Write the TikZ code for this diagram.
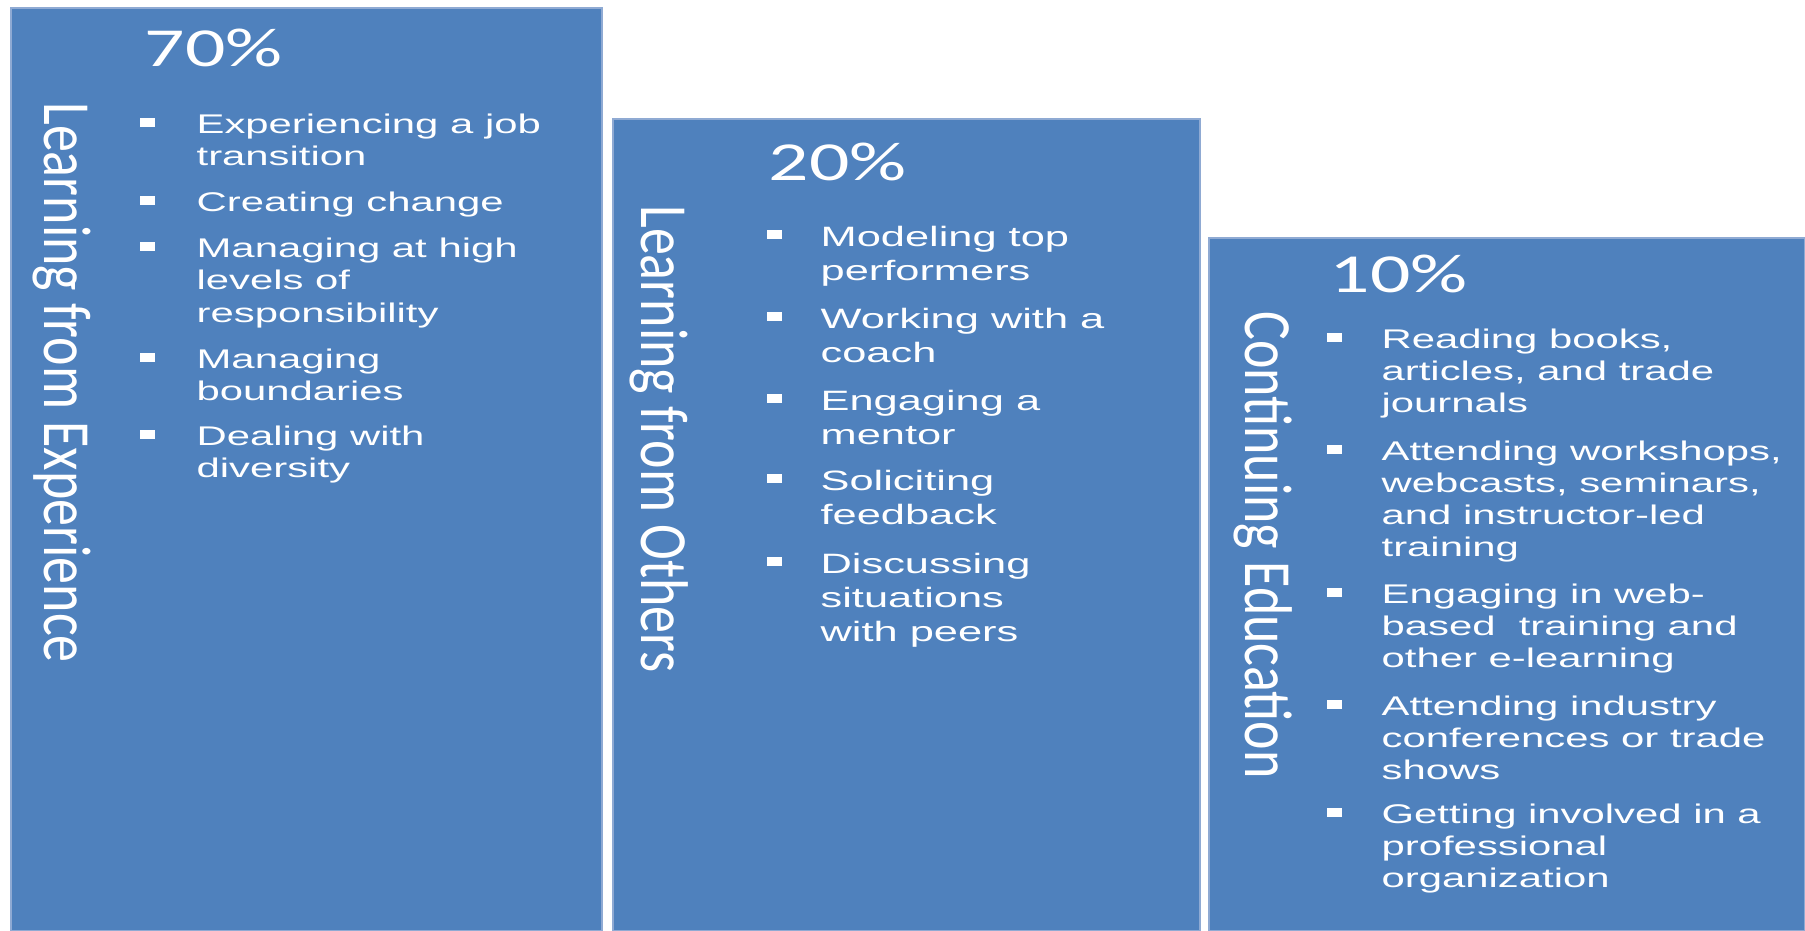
\documentclass[tikz,border=0pt]{standalone}
\usepackage{fontspec}
\setmainfont{Liberation Sans}
\newfontfamily\calfont{Carlito}
\definecolor{barblue}{HTML}{4F81BD}
\definecolor{baredge}{HTML}{8FAAD3}

\begin{document}
\begin{tikzpicture}[x=0.5pt,y=-0.5pt]
	\tikzset{bar/.style={fill=barblue,draw=baredge,line width=0.6pt}}
	\tikzset{pct/.style={text=white,font=\calfont\fontsize{27.5}{27.5}\selectfont,xscale=1.45,anchor=base west,inner sep=0pt}}
	\tikzset{side/.style={text=white,font=\calfont\fontsize{27}{27}\selectfont,xscale=1.25,rotate=-90,anchor=base west,inner sep=0pt}}
	\tikzset{item/.style={text=white,xscale=1.55,anchor=north west,align=left,inner sep=0pt}}
	\tikzset{dot/.style={fill=white,minimum width=7.5pt,minimum height=4.25pt,inner sep=0pt,anchor=south west}}
	\useasboundingbox (0,0) rectangle (1805,931);
	% three bars
	\path[bar] (11,8) rectangle (602,931);
	\path[bar] (613,119) rectangle (1200,931);
	\path[bar] (1209,238) rectangle (1805,931);
	% percentages and side labels
	\node[pct] (p70) at (144,67) {70\%};
	\node[pct] (p20) at (768,180) {20\%};
	\node[pct] (p10) at (1329,292) {10\%};
	\node[side] (exp) at (44,102) {Learning from Experience};
	\node[side] (oth) at (641,205) {Learning from Others};
	\node[side] (edu) at (1245,311) {Continuing Education};
	% bullet lists (first baseline at \y)
	\foreach \y/\txt [count=\i] in {133/{Experiencing a job\\transition},211/{Creating change},
		257/{Managing at high\\levels of\\responsibility},368/{Managing\\boundaries},445/{Dealing with\\diversity}} {
		\node[item,font=\fontsize{13.5}{16.25}\selectfont] (e\i) at (196,\y-22.75) {\strut\txt};
		\node[dot] (ed\i) at (140,\y-6) {};
	}
	\foreach \y/\txt [count=\i] in {246/{Modeling top\\performers},328/{Working with a\\coach},
		410/{Engaging a\\mentor},490/{Soliciting\\feedback},573/{Discussing\\situations\\with peers}} {
		\node[item,font=\fontsize{14}{17}\selectfont] (o\i) at (820,\y-23.8) {\strut\txt};
		\node[dot] (od\i) at (767,\y-7) {};
	}
	\foreach \y/\txt [count=\i] in {348/{Reading books,\\articles, and trade\\journals},
		460/{Attending workshops,\\webcasts, seminars,\\and instructor-led\\training},
		603/{Engaging in web-\\based~ training and\\other e-learning},
		715/{Attending industry\\conferences or trade\\shows},
		823/{Getting involved in a\\professional\\organization}} {
		\node[item,font=\fontsize{13.5}{16}\selectfont] (c\i) at (1381,\y-22.4) {\strut\txt};
		\node[dot] (cd\i) at (1327,\y-6) {};
	}
\end{tikzpicture}
\end{document}
